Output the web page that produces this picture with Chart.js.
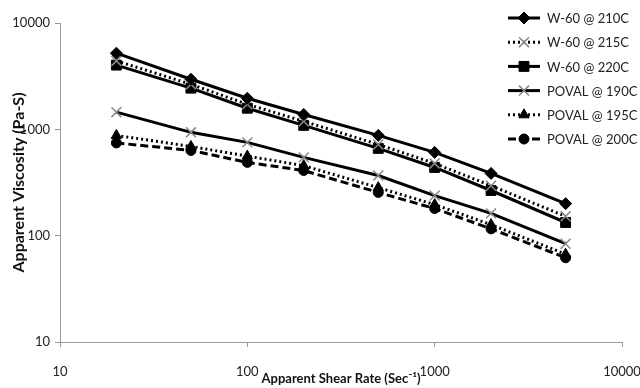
<!DOCTYPE html>
<html>
<head>
<meta charset="utf-8">
<script src="https://cdn.jsdelivr.net/npm/chart.js@4"></script>
<style>
  body { margin: 0; background: #fff; }
  #wrap { width: 640px; height: 388px; }
</style>
</head>
<body>
<div id="wrap"><canvas id="visc"></canvas></div>
<script>
const shearRates = [20, 50, 100, 200, 500, 1000, 2000, 5000];
const w60_210 = [5200, 2960, 1960, 1380, 877, 607, 385, 200];
const w60_215 = [4400, 2650, 1720, 1190, 720, 478, 295, 152];
const w60_220 = [4020, 2440, 1580, 1090, 662, 438, 266, 133];
const poval_190 = [1450, 937, 754, 545, 368, 238, 162, 84];
const poval_195 = [877, 690, 560, 455, 283, 196, 127, 67];
const poval_200 = [745, 633, 489, 410, 255, 180, 116, 62];
const decadeTicks = [10, 100, 1000, 10000];

const pts = (ys) => shearRates.map((x, i) => ({ x: x, y: ys[i] }));

const series = (label, ys, style, dash, radius, markerColor) => ({
  label: label,
  data: pts(ys),
  borderColor: '#000',
  borderWidth: 3,
  borderDash: dash,
  pointStyle: style,
  pointRadius: radius,
  pointBackgroundColor: markerColor,
  pointBorderColor: markerColor,
  pointBorderWidth: style === 'crossRot' ? 1.5 : 1,
  fill: false,
  tension: 0
});

// legend drawn in the top-right corner, over the plot like the original
const sideLegend = {
  id: 'sideLegend',
  afterDraw(chart) {
    const ctx = chart.ctx;
    ctx.save();
    chart.data.datasets.forEach((ds, i) => {
      const y = 18 + i * 24.2;
      ctx.strokeStyle = '#000';
      ctx.lineWidth = 3;
      ctx.setLineDash(ds.borderDash || []);
      ctx.beginPath();
      ctx.moveTo(508, y);
      ctx.lineTo(540, y);
      ctx.stroke();
      ctx.setLineDash([]);
      ctx.fillStyle = ds.pointBackgroundColor;
      ctx.strokeStyle = ds.pointBorderColor;
      ctx.lineWidth = ds.pointBorderWidth;
      Chart.helpers.drawPoint(ctx, { pointStyle: ds.pointStyle, radius: ds.pointRadius, rotation: 0, borderWidth: ds.pointBorderWidth }, 524, y);
      ctx.fillStyle = '#222';
      ctx.font = '13px Lato';
      ctx.textBaseline = 'middle';
      ctx.textAlign = 'left';
      ctx.fillText(ds.label, 547, y + 1);
    });
    ctx.restore();
  }
};

new Chart(document.getElementById('visc'), {
  type: 'line',
  data: {
    datasets: [
      series('W-60 @ 210C', w60_210, 'rectRot', [], 6, '#000'),
      series('W-60 @ 215C', w60_215, 'crossRot', [2, 3], 7, '#888'),
      series('W-60 @ 220C', w60_220, 'rect', [], 7, '#000'),
      series('POVAL @ 190C', poval_190, 'crossRot', [], 7, '#888'),
      series('POVAL @ 195C', poval_195, 'triangle', [2, 3], 6, '#000'),
      series('POVAL @ 200C', poval_200, 'circle', [8, 4], 5, '#000')
    ]
  },
  options: {
    responsive: true,
    maintainAspectRatio: false,
    animation: false,
    layout: { padding: { top: 23, right: 0, left: 0, bottom: 0 } },
    plugins: {
      legend: { display: false },
      tooltip: { enabled: false }
    },
    scales: {
      x: {
        type: 'logarithmic',
        min: 10,
        max: 10000,
        afterBuildTicks: (s) => { s.ticks = decadeTicks.map(v => ({ value: v })); },
        afterFit: (s) => { s.height = 46; s.paddingRight = 18; s.paddingLeft = 0; },
        border: { color: '#999' },
        grid: { drawOnChartArea: false, tickLength: 5, color: '#999' },
        ticks: {
          padding: 17,
          color: '#222',
          font: { family: 'Lato', size: 13 },
          maxRotation: 0,
          callback: (v) => String(v)
        },
        title: {
          display: true,
          text: 'Apparent Shear Rate (Sec\u207B\u00B9)',
          color: '#111',
          font: { family: 'Lato', size: 13, weight: 'bold' },
          padding: { top: 0, bottom: 1 }
        }
      },
      y: {
        type: 'logarithmic',
        min: 10,
        max: 10000,
        afterBuildTicks: (s) => { s.ticks = decadeTicks.map(v => ({ value: v })); },
        afterFit: (s) => { s.width = 60; },
        border: { color: '#999' },
        grid: { drawOnChartArea: false, tickLength: 5, color: '#999' },
        ticks: {
          padding: 5,
          color: '#222',
          font: { family: 'Lato', size: 13 },
          callback: (v) => String(v)
        },
        title: {
          display: true,
          text: 'Apparent Viscosity (Pa-S)',
          color: '#111',
          font: { family: 'Lato', size: 16, weight: 'bold' },
          padding: { top: 9, bottom: 0 }
        }
      }
    }
  },
  plugins: [sideLegend]
});
</script>
</body>
</html>
